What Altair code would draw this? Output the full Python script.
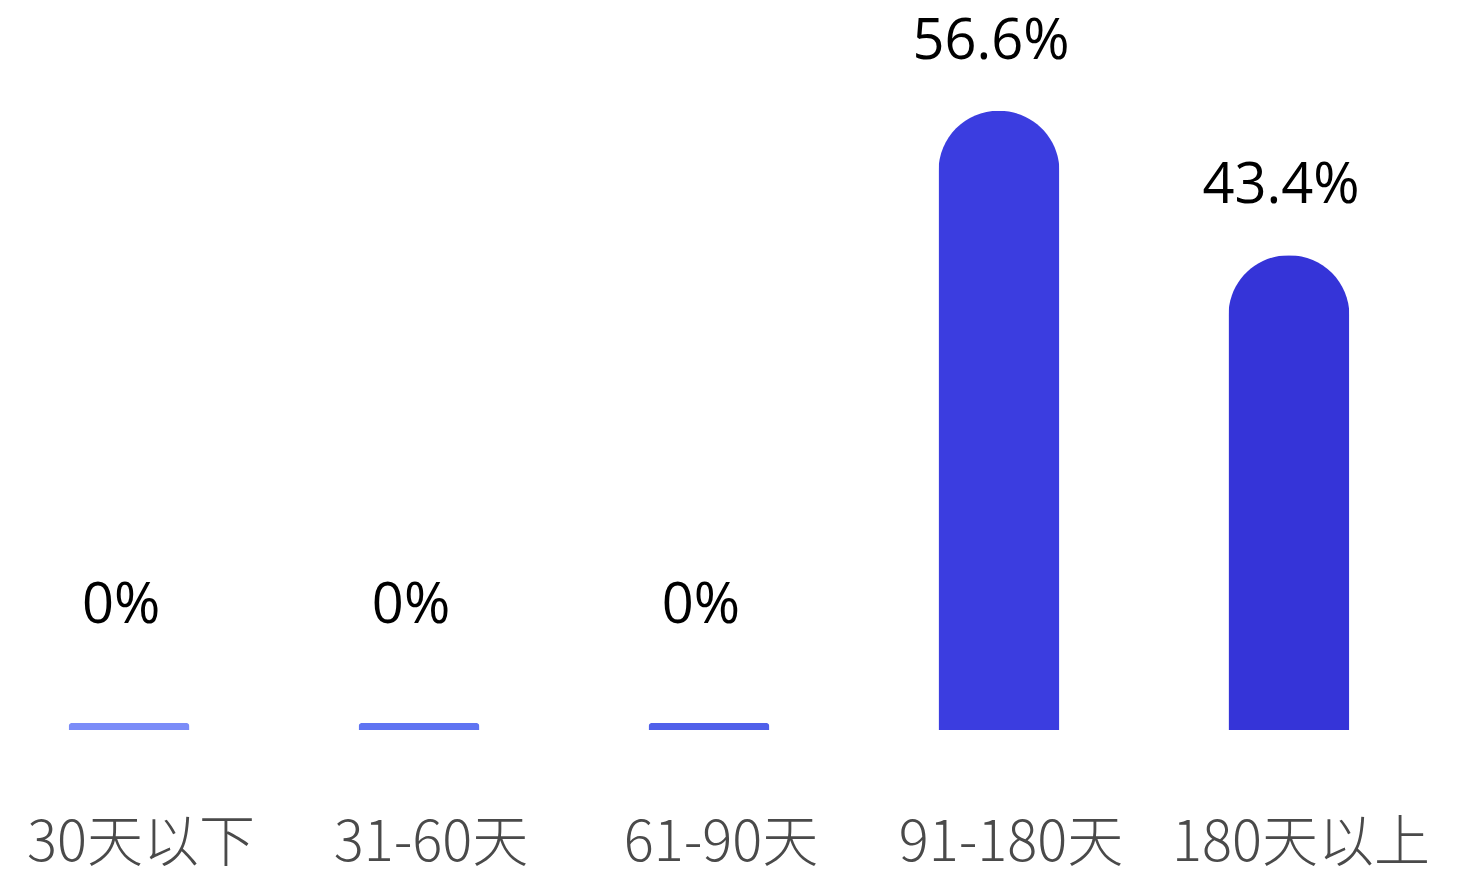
import altair as alt
import pandas as pd

categories = ["30天以下", "31-60天", "61-90天", "91-180天", "180天以上"]
values = [0, 0, 0, 56.6, 43.4]
labels = ["0%", "0%", "0%", "56.6%", "43.4%"]
colors = ["#7b8cf8", "#5f74f2", "#5060ea", "#3b3de0", "#3534d8"]

df = pd.DataFrame({"cat": categories, "value": values, "label": labels, "color": colors})

x = alt.X("cat:N", sort=categories, title=None,
          scale=alt.Scale(paddingInner=0.583, paddingOuter=0.209),
          axis=alt.Axis(labelAngle=0, domain=False, ticks=False, labelPadding=86,
                        labelFontSize=56, labelColor="#4a4a4a", labelFont="Noto Sans CJK SC",
                        labelFontWeight=300, labelLimit=0, labelOffset=12, labelOverlap=False,
                        grid=False))

yscale = alt.Scale(domain=[0, 66])

base = alt.Chart(df).transform_calculate(
    bar_v="max(datum.value, 0.65)",
    lab_v="max(datum.value, 5)"
)

bars = base.mark_bar(cornerRadiusTopLeft=60, cornerRadiusTopRight=60).encode(
    x=x,
    y=alt.Y("bar_v:Q", scale=yscale, axis=None),
    color=alt.Color("color:N", scale=None),
)

text = base.mark_text(fontSize=56, font="Open Sans", color="#000000", baseline="alphabetic", dy=-52, dx=-8).encode(
    x=x,
    y=alt.Y("lab_v:Q", scale=yscale, axis=None),
    text="label:N",
)

chart = (bars + text).properties(width=1402, height=722, padding=0).configure_view(stroke=None)

chart.save("out.html", embed_options={"renderer": "svg", "actions": False})
